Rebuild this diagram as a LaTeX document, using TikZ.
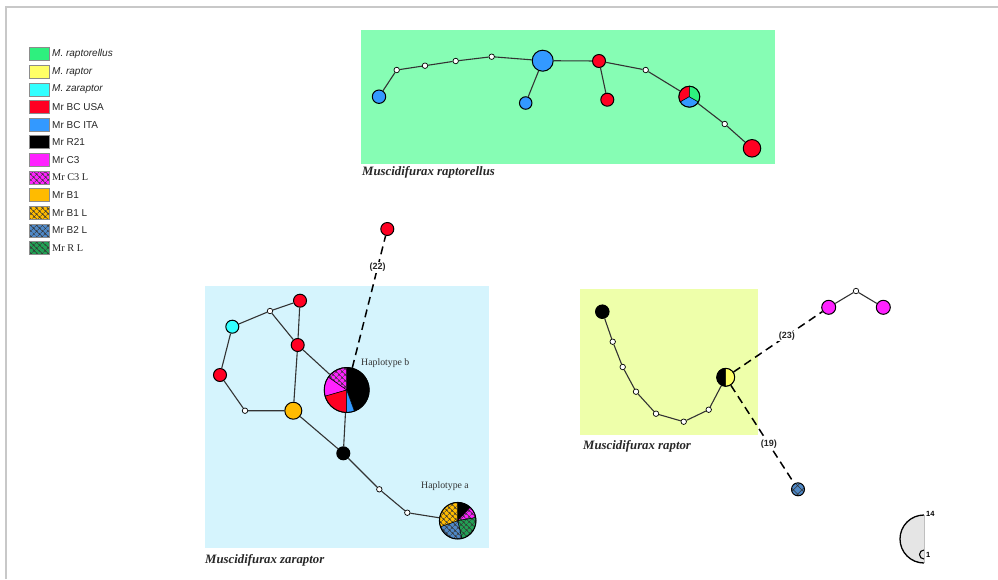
\documentclass[tikz,border=0pt]{standalone}
\usepackage{fontspec}
\setmainfont{Liberation Serif}
\newfontfamily\arialf{Liberation Sans}
\usetikzlibrary{patterns.meta}
\definecolor{cRaptorellus}{HTML}{2EF07E}
\definecolor{cRaptor}{HTML}{FFFF66}
\definecolor{cZaraptor}{HTML}{33FFFF}
\definecolor{cUSA}{HTML}{FF0022}
\definecolor{cITA}{HTML}{3399FF}
\definecolor{cRtw}{HTML}{000000}
\definecolor{cC3}{HTML}{FF22FF}
\definecolor{cB1}{HTML}{FFBB00}
\definecolor{cB2}{HTML}{4F88C6}
\definecolor{cRL}{HTML}{22A055}
\definecolor{bgGreen}{HTML}{86FDB4}
\definecolor{bgCyan}{HTML}{D5F4FD}
\definecolor{bgYellow}{HTML}{EEFFAA}
\definecolor{frameGray}{HTML}{C8C8C8}
\newcommand{\pieslice}[5]{%
  \filldraw[draw=black, line width=0.5pt, #5] (#1) -- ++(#3:#2pt) arc[start angle=#3, end angle=#4, radius=#2pt] -- cycle;}
\begin{document}
\begin{tikzpicture}[x=1pt,y=1pt,
  hap/.style={circle, draw=black, line width=1pt, inner sep=0pt, minimum size=#1pt},
  mv/.style={circle, draw=black, fill=white, line width=0.7pt, inner sep=0pt, minimum size=5.5pt},
  link/.style={draw=black!80, line width=1.1pt},
  dlink/.style={draw=black, line width=1.5pt, dash pattern=on 8pt off 5pt},
  hatch/.style={preaction={fill=#1}, pattern={Hatch[angle=45,distance=4pt,line width=0.5pt]}, pattern color=black!80},
  swatch/.style={rectangle, draw=black!45, line width=0.6pt, minimum width=20pt, minimum height=13pt, inner sep=0pt},
  legtxt/.style={anchor=west, inner sep=0pt, font=\arialf\fontsize{10}{12}\selectfont, text=black!85},
  legtxtserif/.style={anchor=west, inner sep=0pt, font=\fontsize{10.3}{12}\selectfont, text=black!85},
  grouplabel/.style={anchor=west, inner sep=0pt, font=\bfseries\itshape\fontsize{12.8}{15}\selectfont, text=black!85},
  haplabel/.style={anchor=west, inner sep=0pt, font=\fontsize{9.8}{11}\selectfont, text=black!80},
  steplabel/.style={fill=white, inner sep=1pt, font=\arialf\bfseries\fontsize{9}{10}\selectfont, text=black!85}]
\useasboundingbox (0,0) rectangle (998,-579);
% frame
\draw[frameGray, line width=2pt] (6,-579) -- (6,-7) -- (998,-7);
% backgrounds
\fill[bgGreen] (361,-30) rectangle (775,-164);
\fill[bgCyan] (205,-286) rectangle (489,-548);
\fill[bgYellow] (580,-289) rectangle (758,-435);
\node[grouplabel] (lblA) at (362,-172) {Muscidifurax raptorellus};
\node[grouplabel] (lblB) at (205,-560) {Muscidifurax zaraptor};
\node[grouplabel] (lblC) at (583,-446) {Muscidifurax raptor};

% legend
\node[swatch, fill=cRaptorellus] (s1) at (39,-54) {};
\node[legtxt] (l1) at (52,-54) {\itshape M. raptorellus};
\node[swatch, fill=cRaptor] (s2) at (39,-71.65) {};
\node[legtxt] (l2) at (52,-71.65) {\itshape M. raptor};
\node[swatch, fill=cZaraptor] (s3) at (39,-89.3) {};
\node[legtxt] (l3) at (52,-89.3) {\itshape M. zaraptor};
\node[swatch, fill=cUSA] (s4) at (39,-106.95) {};
\node[legtxt] (l4) at (52,-106.95) {Mr BC USA};
\node[swatch, fill=cITA] (s5) at (39,-124.6) {};
\node[legtxt] (l5) at (52,-124.6) {Mr BC ITA};
\node[swatch, fill=cRtw] (s6) at (39,-142.25) {};
\node[legtxt] (l6) at (52,-142.25) {Mr R21};
\node[swatch, fill=cC3] (s7) at (39,-159.9) {};
\node[legtxt] (l7) at (52,-159.9) {Mr C3};
\node[swatch, hatch=cC3] (s8) at (39,-177.55) {};
\node[legtxtserif] (l8) at (52,-177.55) {Mr C3 L};
\node[swatch, fill=cB1] (s9) at (39,-195.2) {};
\node[legtxt] (l9) at (52,-195.2) {Mr B1};
\node[swatch, hatch=cB1] (s10) at (39,-212.85) {};
\node[legtxt] (l10) at (52,-212.85) {Mr B1 L};
\node[swatch, hatch=cB2] (s11) at (39,-230.5) {};
\node[legtxt] (l11) at (52,-230.5) {Mr B2 L};
\node[swatch, hatch=cRL] (s12) at (39,-248.15) {};
\node[legtxtserif] (l12) at (52,-248.15) {Mr R L};

% ---------- top network (M. raptorellus)
\coordinate (tPc) at (689.3,-96.7);
\pieslice{tPc}{10.5}{90}{210}{fill=cUSA}
\pieslice{tPc}{10.5}{210}{330}{fill=cITA}
\pieslice{tPc}{10.5}{-30}{90}{fill=cRaptorellus}
\node[hap=21] (tP) at (tPc) {};
\node[hap=13.4, fill=cITA] (t1) at (379,-96.7) {};
\node[mv] (tw1) at (396.7,-70) {};
\node[mv] (tw2) at (425,-65.7) {};
\node[mv] (tw3) at (455.7,-61) {};
\node[mv] (tw4) at (491.7,-56.7) {};
\node[hap=21, fill=cITA] (tB) at (542.7,-60.7) {};
\node[hap=12.5, fill=cITA] (tb2) at (525.7,-103) {};
\node[hap=13, fill=cUSA] (tr1) at (599,-61) {};
\node[hap=13, fill=cUSA] (tr2) at (607.3,-99.7) {};
\node[mv] (tw5) at (645.7,-70) {};
\node[mv] (tw6) at (724.7,-124) {};
\node[hap=17.5, fill=cUSA] (tr3) at (752,-148.3) {};
\draw[link] (t1) -- (tw1) -- (tw2) -- (tw3) -- (tw4) -- (tB);
\draw[link] (tB) -- (tb2);
\draw[link] (tB) -- (tr1);
\draw[link] (tr1) -- (tr2);
\draw[link] (tr1) -- (tw5) -- (tP) -- (tw6) -- (tr3);

% ---------- left network (M. zaraptor)
\coordinate (Hbc) at (346.7,-390);
\pieslice{Hbc}{22.5}{-70}{90}{fill=cRtw}
\pieslice{Hbc}{22.5}{90}{145}{hatch=cC3}
\pieslice{Hbc}{22.5}{145}{196}{fill=cC3}
\pieslice{Hbc}{22.5}{196}{270}{fill=cUSA}
\pieslice{Hbc}{22.5}{270}{290}{fill=cITA}
\node[hap=45] (Hb) at (Hbc) {};
\coordinate (Hac) at (457.7,-520.7);
\pieslice{Hac}{18.3}{47}{90}{fill=cRtw}
\pieslice{Hac}{18.3}{10}{47}{hatch=cC3}
\pieslice{Hac}{18.3}{-77}{10}{hatch=cRL}
\pieslice{Hac}{18.3}{199}{283}{hatch=cB2}
\pieslice{Hac}{18.3}{90}{199}{hatch=cB1}
\node[hap=36.6] (Ha) at (Hac) {};
\node[hap=13, fill=cUSA] (zr1) at (300,-300.7) {};
\node[mv] (zw1) at (270,-311) {};
\node[hap=13, fill=cZaraptor] (zc) at (232.3,-326.7) {};
\node[hap=13, fill=cUSA] (zr2) at (297.7,-345) {};
\node[hap=13, fill=cUSA] (zr3) at (220,-375) {};
\node[mv] (zw2) at (245,-410.7) {};
\node[hap=17, fill=cB1] (zo) at (293.3,-410.7) {};
\node[hap=13, fill=cRtw] (zk) at (343.3,-453.3) {};
\node[mv] (zw3) at (379.3,-489.3) {};
\node[mv] (zw4) at (407.3,-512.7) {};
\node[hap=13, fill=cUSA] (r22) at (387.3,-229) {};
\node[haplabel] (hbl) at (361,-363) {Haplotype b};
\node[haplabel] (hal) at (421,-486) {Haplotype a};
\draw[link] (zw1) -- (zr1);
\draw[link] (zw1) -- (zc);
\draw[link] (zw1) -- (zr2);
\draw[link] (zr1) -- (zr2);
\draw[link] (zr2) -- (Hb);
\draw[link] (zr2) -- (zo);
\draw[link] (zc) -- (zr3) -- (zw2) -- (zo) -- (zk);
\draw[link] (Hb) -- (zk);
\draw[link] (zk) -- (zw3) -- (zw4) -- (Ha);
\draw[dlink] (Hb) -- (r22) node[steplabel, pos=0.76] (n22) {(22)};

% ---------- right network (M. raptor)
\coordinate (rHc) at (725.7,-377.3);
\pieslice{rHc}{9}{90}{270}{fill=cRtw}
\pieslice{rHc}{9}{-90}{90}{fill=cRaptor}
\node[hap=18] (rH) at (rHc) {};
\node[hap=13.5, fill=cRtw] (rk) at (602.3,-311.7) {};
\node[mv] (rw1) at (612.7,-341.7) {};
\node[mv] (rw2) at (622.7,-367) {};
\node[mv] (rw3) at (636,-391.7) {};
\node[mv] (rw4) at (656,-413.7) {};
\node[mv] (rw5) at (683.7,-421.7) {};
\node[mv] (rw6) at (708.7,-409.7) {};
\node[hap=14, fill=cC3] (rm1) at (828.7,-307.3) {};
\node[mv] (rw7) at (856,-291) {};
\node[hap=14, fill=cC3] (rm2) at (883.3,-307.3) {};
\node[hap=13, hatch=cB2, pattern={Hatch[angle=45,distance=6pt,line width=0.6pt]}] (rx) at (798,-489.3) {};
\draw[link] (rk) -- (rw1) -- (rw2) -- (rw3) -- (rw4) -- (rw5) -- (rw6) -- (rH);
\draw[link] (rm1) -- (rw7) -- (rm2);
\draw[dlink] (rH) -- (rm1) node[steplabel, pos=0.6] (n23) {(23)};
\draw[dlink] (rH) -- (rx) node[steplabel, pos=0.6] (n19) {(19)};

% ---------- size scale
\coordinate (scTop) at (924,-515);
\coordinate (scBot) at (924,-563);
\fill[black!10] (scTop) arc[start angle=90, end angle=270, radius=24pt] -- cycle;
\draw[black!25, line width=0.6pt] (scTop) -- (scBot);
\draw[black, line width=1.3pt] (scTop) arc[start angle=90, end angle=270, radius=24pt];
\draw[black, line width=1.1pt] (924,-550) arc[start angle=90, end angle=270, radius=4.5pt];
\node[anchor=west, inner sep=0pt, font=\arialf\bfseries\fontsize{7.5}{9}\selectfont] (s14) at (926,-514) {14};
\node[anchor=west, inner sep=0pt, font=\arialf\bfseries\fontsize{7.5}{9}\selectfont] (s1l) at (926,-555) {1};
\end{tikzpicture}
\end{document}
